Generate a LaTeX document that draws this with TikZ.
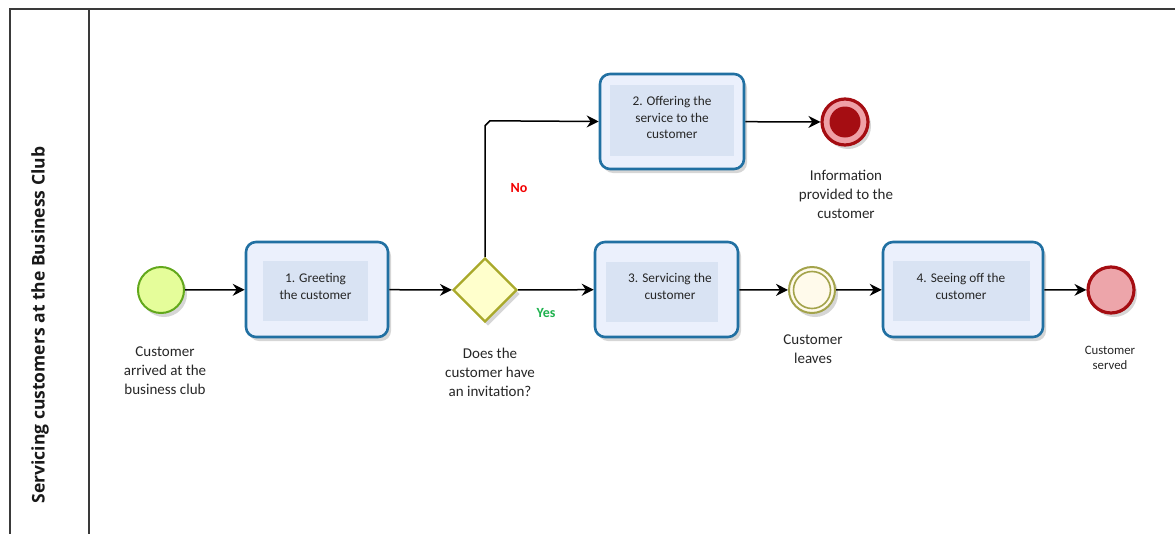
\documentclass[tikz,border=0pt]{standalone}
\usepackage{fontspec}
\setmainfont{Carlito}
\newfontfamily\titlefont{Open Sans}
\usetikzlibrary{arrows.meta,shadows,shapes.geometric}

\definecolor{poolline}{HTML}{3A3A3A}
\definecolor{taskline}{HTML}{2170A2}
\definecolor{taskfill}{HTML}{EBF0FC}
\definecolor{taskinner}{HTML}{D9E3F3}
\definecolor{startline}{HTML}{62A81C}
\definecolor{startfill}{HTML}{E5FD9A}
\definecolor{gateline}{HTML}{A9A92A}
\definecolor{gatefill}{HTML}{FFFFCC}
\definecolor{endline}{HTML}{A50D12}
\definecolor{endring}{HTML}{EFA0A6}
\definecolor{endfill}{HTML}{EDA5AA}
\definecolor{midline}{HTML}{A3A34B}
\definecolor{midfill}{HTML}{FFFAEB}
\definecolor{yesgreen}{HTML}{1FB24E}
\definecolor{nored}{HTML}{F20000}

\tikzset{
  softshadow/.style={drop shadow={shadow xshift=3pt,shadow yshift=-4pt,opacity=.16,fill=black}},
  taskbox/.style={draw=taskline, line width=2.6pt, fill=taskfill, rounded corners=10pt,
    minimum height=95pt, softshadow},
  taskcore/.style={fill=taskinner, draw=none, inner sep=0pt},
  tasktext/.style={font=\fontsize{13.3}{16.5}\selectfont, align=center, text=black!85},
  startev/.style={circle, draw=startline, line width=2pt, fill=startfill, minimum size=46pt, inner sep=0pt, softshadow},
  gate/.style={draw=gateline, line width=2.4pt, fill=gatefill, softshadow},
  endev/.style={circle, draw=endline, line width=3.2pt, fill=endfill, minimum size=46pt, inner sep=0pt, softshadow},
  midev/.style={circle, draw=midline, line width=2pt, fill=midfill, minimum size=46pt, inner sep=0pt, softshadow},
  evlabel/.style={font=\fontsize{15}{19}\selectfont, align=center, text=black!85},
  smalllabel/.style={font=\fontsize{12.8}{15.5}\selectfont, align=center, text=black!85},
  flow/.style={line width=1.5pt, -{Stealth[length=12pt,width=12pt,inset=4pt]}},
}

\begin{document}
\begin{tikzpicture}[x=1pt,y=-1pt]
\useasboundingbox (0,0) rectangle (1175,533);

% pool with its single lane header
\draw[poolline, line width=1.8pt] (1185,9) -- (10,9) -- (10,545);
\draw[poolline, line width=1.8pt] (89,9) -- (89,545);
\node[rotate=90, font=\titlefont\fontsize{17.5}{20}\selectfont\bfseries, text=black!90] (pooltitle) at (40,325)
  {Servicing customers at the Business Club};

% events and gateway
\node[startev] (start) at (161,290) {};
\node[evlabel] (startlbl) at (165,371) {Customer\\arrived at the\\business club};

\node[gate, diamond, minimum width=64pt, minimum height=64pt, inner sep=0pt, shape aspect=1] (gw) at (485,290) {};
\node[evlabel] (gwlbl) at (490,372) {Does the\\customer have\\an invitation?};

\node[endev, fill=endring] (endinfo) at (845,122) {};
\node[circle, fill=endline, minimum size=31pt, inner sep=0pt] (endinfocore) at (845,122) {};
\node[evlabel] (endinfolbl) at (846,194) {Information\\provided to the\\customer};

\node[midev] (leave) at (812,290) {};
\node[circle, draw=midline, line width=1.6pt, minimum size=37pt, inner sep=0pt] (leaveinner) at (812,290) {};
\node[evlabel] (leavelbl) at (813,349) {Customer\\leaves};

\node[endev] (served) at (1111,290) {};
\node[smalllabel] (servedlbl) at (1110,358) {Customer\\served};

% tasks
\node[taskbox, minimum width=142pt] (t1) at (317,289.5) {};
\node[taskcore, minimum width=105pt, minimum height=60pt] (t1core) at (315.5,291) {};
\node[tasktext] (t1txt) at (315.5,286.5) {1. Greeting\\the customer};

\node[taskbox, minimum width=144pt] (t2) at (672,121.5) {};
\node[taskcore, minimum width=124pt, minimum height=71pt] (t2core) at (672,120.5) {};
\node[tasktext] (t2txt) at (672,117.5) {2. Offering the\\service to the\\customer};

\node[taskbox, minimum width=143pt] (t3) at (666.5,289.5) {};
\node[taskcore, minimum width=112pt, minimum height=60pt] (t3core) at (662,292) {};
\node[tasktext] (t3txt) at (670,286.5) {3. Servicing the\\customer};

\node[taskbox, minimum width=160pt] (t4) at (963,289.5) {};
\node[taskcore, minimum width=137pt, minimum height=60pt] (t4core) at (961.5,291) {};
\node[tasktext] (t4txt) at (961,286.5) {4. Seeing off the\\customer};

% sequence flows
\draw[flow] (start) -- (t1);
\draw[flow] (t1) -- (gw);
\draw[flow] (gw) -- (t3);
\draw[flow] (gw.north) -- ++(0,-131) -- ++(5,-5) -- (t2.west);
\draw[flow] (t2) -- (endinfo);
\draw[flow] (t3) -- (leave);
\draw[flow] (leave) -- (t4);
\draw[flow] (t4) -- (served);

% gateway branch labels
\node[font=\fontsize{14}{16}\selectfont\bfseries, text=yesgreen] (yes) at (546,313) {Yes};
\node[font=\fontsize{14}{16}\selectfont\bfseries, text=nored] (no) at (519,188) {No};
\end{tikzpicture}
\end{document}
